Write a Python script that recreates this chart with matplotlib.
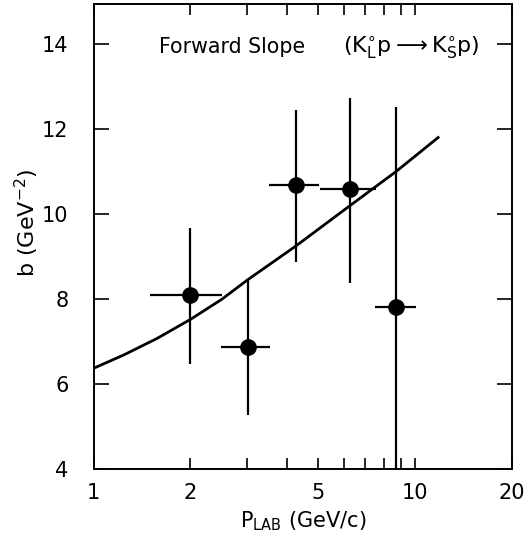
import matplotlib.pyplot as plt
import numpy as np

p_lab = [2.0, 3.01, 4.26, 6.25, 8.72]
slope_b = [8.09, 6.88, 10.68, 10.58, 7.82]
p_low = [1.50, 2.49, 3.50, 5.04, 7.52]
p_high = [2.51, 3.54, 5.01, 7.57, 10.07]
b_low = [6.46, 5.27, 8.88, 8.37, 3.5]
b_high = [9.67, 8.47, 12.45, 12.74, 12.51]

# fitted curve
curve_p = [1.0, 1.238, 1.573, 2.0, 2.5, 3.01, 4.26, 6.25, 8.72, 11.78]
curve_b = [6.37, 6.68, 7.07, 7.52, 7.99, 8.45, 9.25, 10.19, 11.0, 11.8]

x_ticks = [1, 2, 5, 10, 20]
x_minor = [3, 4, 6, 7, 8, 9]
y_ticks = [4, 6, 8, 10, 12, 14]

plt.rcParams["font.family"] = ["DejaVu Sans"]
plt.rcParams["mathtext.fontset"] = "dejavusans"

fig = plt.figure(figsize=(5.29, 5.40), dpi=100)
ax = fig.add_axes([0.177, 0.1315, 0.791, 0.861])

p = np.array(p_lab)
b = np.array(slope_b)
xerr = [p - np.array(p_low), np.array(p_high) - p]
yerr = [b - np.array(b_low), np.array(b_high) - b]
ax.errorbar(p, b, xerr=xerr, yerr=yerr, fmt="o", color="black",
            markersize=11, elinewidth=1.6, capsize=0)

ax.plot(curve_p, curve_b, color="black", lw=2.0, solid_joinstyle="round")

ax.set_xscale("log")
ax.set_xlim(1, 20)
ax.set_ylim(4, 14.94)

ax.set_xticks(x_ticks, [str(t) for t in x_ticks])
ax.set_xticks(x_minor, minor=True)
ax.xaxis.set_minor_formatter(plt.NullFormatter())
ax.set_yticks(y_ticks)

ax.tick_params(axis="x", which="both", direction="in", top=True,
               length=8, width=1.2, labelsize=15, pad=10)
ax.tick_params(axis="y", direction="in", right=True,
               length=11, width=1.2, labelsize=15, pad=18)
for s in ax.spines.values():
    s.set_linewidth(1.4)

ax.text(1.60, 13.92, "Forward Slope", fontsize=14.8, va="center")
ax.text(5.98, 13.92, r"$(\mathrm{K}^{\circ}_{\mathrm{L}}\mathrm{p}\longrightarrow\mathrm{K}^{\circ}_{\mathrm{S}}\mathrm{p})$",
        fontsize=16, va="center")

ax.set_xlabel(r"$\mathrm{P}_{\mathrm{LAB}}$ (GeV/c)", fontsize=15, labelpad=5)
ax.set_ylabel(r"b $\left(\mathrm{GeV}^{-2}\right)$", fontsize=16)
ax.yaxis.set_label_coords(-0.125, 0.53)

fig.savefig("out.png", dpi=100)
